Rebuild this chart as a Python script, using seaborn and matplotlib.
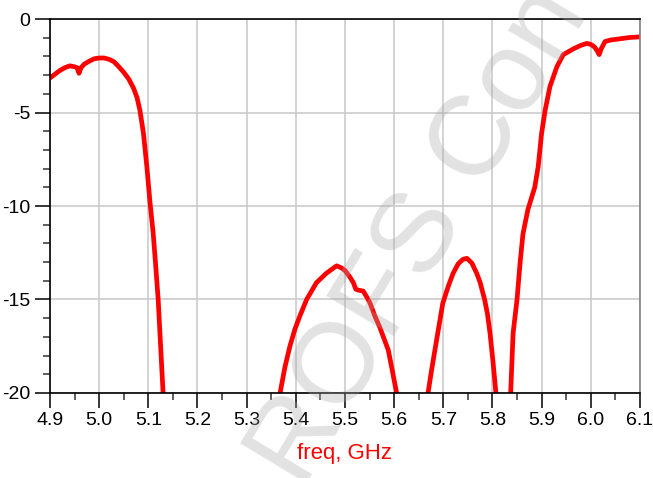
import numpy as np
import pandas as pd
import matplotlib
matplotlib.use('Agg')
import matplotlib.pyplot as plt
from matplotlib.ticker import MultipleLocator
import seaborn as sns

# frequency (GHz) and response (dB), one list per visible piece
f1 = [4.900, 4.910, 4.920, 4.930, 4.940, 4.950, 4.955, 4.959, 4.963, 4.970, 4.980, 4.990,
      5.000, 5.010, 5.020, 5.030, 5.040, 5.050, 5.060, 5.070, 5.077, 5.083, 5.090, 5.097,
      5.103, 5.110, 5.115, 5.120, 5.125, 5.130]
db1 = [-3.15, -2.95, -2.75, -2.6, -2.5, -2.55, -2.6, -2.9, -2.6, -2.4, -2.25, -2.12,
       -2.08, -2.08, -2.15, -2.28, -2.55, -2.85, -3.2, -3.7, -4.2, -4.9, -6.1, -7.9,
       -9.7, -11.5, -13.2, -15.0, -17.5, -20.0]

f2 = [5.368, 5.378, 5.388, 5.398, 5.408, 5.422, 5.442, 5.462, 5.475, 5.483, 5.492, 5.500,
      5.510, 5.517, 5.522, 5.527, 5.537, 5.545, 5.551, 5.561, 5.571, 5.578, 5.588, 5.597, 5.605]
db2 = [-20.0, -18.6, -17.5, -16.6, -15.9, -15.0, -14.1, -13.6, -13.35, -13.2, -13.3, -13.45,
       -13.8, -14.1, -14.45, -14.5, -14.55, -14.9, -15.2, -15.9, -16.5, -17.0, -17.7, -18.9, -20.0]

f3 = [5.669, 5.676, 5.683, 5.690, 5.699, 5.710, 5.720, 5.730, 5.740, 5.748, 5.758, 5.768,
      5.775, 5.784, 5.790, 5.795, 5.801, 5.807]
db3 = [-20.0, -18.8, -17.7, -16.6, -15.2, -14.3, -13.6, -13.1, -12.85, -12.8, -13.05, -13.6,
       -14.1, -15.0, -15.8, -16.8, -18.3, -20.0]

f4 = [5.837, 5.842, 5.850, 5.856, 5.862, 5.872, 5.886, 5.893, 5.900, 5.907, 5.917, 5.931,
      5.944, 5.964, 5.980, 5.992, 6.000, 6.008, 6.013, 6.017, 6.021, 6.029, 6.040, 6.060,
      6.080, 6.100]
db4 = [-20.0, -16.8, -15.0, -13.1, -11.5, -10.2, -9.0, -7.9, -6.1, -4.9, -3.6, -2.55,
       -1.9, -1.6, -1.4, -1.3, -1.35, -1.5, -1.7, -1.9, -1.6, -1.2, -1.12, -1.05,
       -0.98, -0.95]

xticks = [4.9, 5.0, 5.1, 5.2, 5.3, 5.4, 5.5, 5.6, 5.7, 5.8, 5.9, 6.0, 6.1]
yticks = [-20, -15, -10, -5, 0]

pieces = []
for i, (f, d) in enumerate([(f1, db1), (f2, db2), (f3, db3), (f4, db4)]):
    pieces.append(pd.DataFrame({'freq': f, 'dB': d, 'seg': i}))
df = pd.concat(pieces, ignore_index=True)

sns.set_style('white')
plt.rcParams['font.family'] = ['Liberation Sans', 'DejaVu Sans']

fig = plt.figure(figsize=(6.53, 4.78), dpi=100)
ax = fig.add_axes([0.0766, 0.178, 0.9034, 0.782])

sns.lineplot(data=df, x='freq', y='dB', units='seg', estimator=None,
             color='#ff0000', lw=3.4, ax=ax, legend=False)

ax.set_xlim(4.9, 6.1)
ax.set_ylim(-20, 0)
ax.set_xticks(xticks)
ax.set_xticklabels([f'{t:.1f}' for t in xticks])
ax.set_yticks(yticks)
ax.set_yticklabels([str(t) for t in yticks])
ax.xaxis.set_minor_locator(MultipleLocator(0.05))
ax.yaxis.set_minor_locator(MultipleLocator(1))

ax.grid(True, which='major', color='#c8c8c8', lw=1.1)
ax.grid(False, which='minor')
ax.set_axisbelow(True)

ax.tick_params(axis='both', which='both', bottom=True, left=True, top=False, right=False)
ax.tick_params(axis='both', which='major', direction='out', length=11, width=1.1,
               color='black', labelsize=14, labelcolor='black', pad=3)
ax.tick_params(axis='both', which='minor', direction='out', length=5, width=1.1,
               color='#333333')

for side in ['left', 'bottom', 'top']:
    ax.spines[side].set_color('black')
    ax.spines[side].set_linewidth(1.2)
ax.spines['right'].set_color('#808080')
ax.spines['right'].set_linewidth(1.2)

ax.set_xlabel('freq, GHz', color='#ff0000', fontsize=16, labelpad=10)
ax.set_ylabel('')

# watermark
fig.text(0.645, 0.505, 'ROFS Con', fontsize=82, color='#a8a8a8', alpha=0.33,
         rotation=59, ha='center', va='center', zorder=10)

fig.savefig('out.png', dpi=100)
